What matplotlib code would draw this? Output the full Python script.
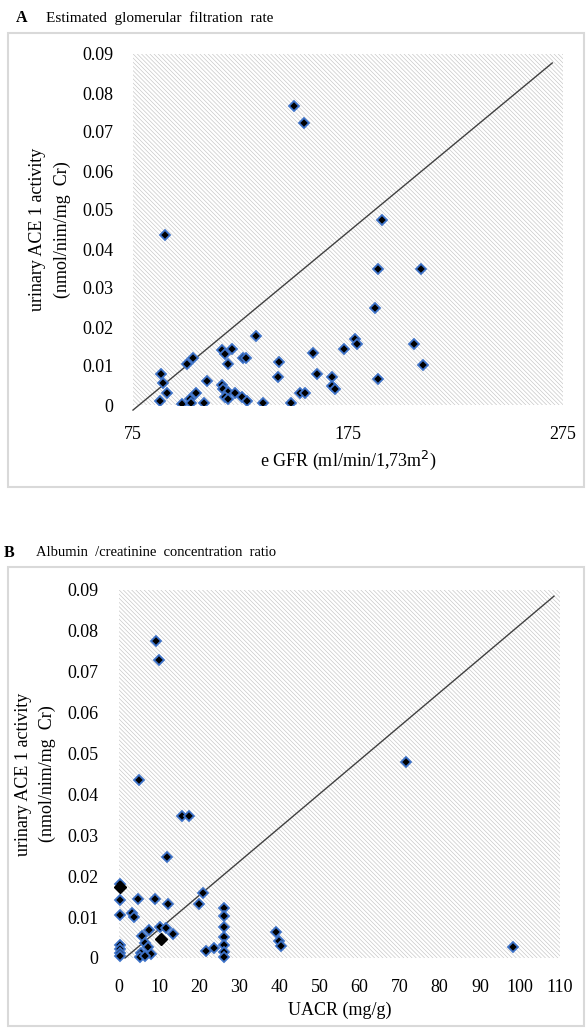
import matplotlib
matplotlib.use("Agg")
import matplotlib.pyplot as plt
from matplotlib.patches import Rectangle

plt.rcParams['font.family'] = ['Liberation Serif', 'DejaVu Serif']
plt.rcParams['hatch.linewidth'] = 0.45
plt.rcParams['hatch.color'] = '#c4c4c4'

# ---------------- Data: panel A (eGFR vs urinary ACE1 activity) ----------------
egfr = [89.9, 88.0, 89.0, 90.7, 87.6, 97.6, 101.5, 101.8, 104.1, 100.3, 102.8,
        108.0, 109.3, 116.2, 117.8, 120.9, 119.0, 116.2, 117.0, 119.3, 117.8,
        119.0, 122.4, 125.8, 127.9, 126.0, 127.4, 132.1, 135.3, 143.0, 142.3,
        148.5, 152.7, 155.0, 158.9, 160.7, 167.4, 167.4, 169.0, 173.1, 178.3,
        179.0, 187.6, 188.8, 188.8, 190.7, 209.0, 205.7, 209.7, 149.7, 154.5]
ace_a = [0.0436, 0.0079, 0.0056, 0.0032, 0.0011, 0.0003, 0.0015, 0.0004, 0.0032,
         0.0105, 0.0120, 0.0004, 0.0062, 0.0141, 0.0132, 0.0143, 0.0105, 0.0051,
         0.0040, 0.0034, 0.0020, 0.0015, 0.0032, 0.0021, 0.0010, 0.0120, 0.0120,
         0.0177, 0.0004, 0.0109, 0.0071, 0.0004, 0.0030, 0.0032, 0.0134, 0.0079,
         0.0073, 0.0050, 0.0041, 0.0143, 0.0169, 0.0156, 0.0248, 0.0348, 0.0067,
         0.0474, 0.0349, 0.0156, 0.0103, 0.0767, 0.0722]
line_a_x = [75, 270]
line_a_y = [-0.0013, 0.0877]

# ---------------- Data: panel B (UACR vs urinary ACE1 activity) ----------------
uacr = [5.0, 15.8, 17.5, 11.9, 0.25, 20.9, 20.0, 0.25, 4.7, 9.1, 12.1, 0.25,
        3.2, 3.8, 10.2, 11.7, 7.6, 13.4, 5.7, 6.5, 7.2, 0.25, 0.25, 0.25, 0.25,
        5.5, 7.9, 5.2, 6.5, 21.7, 23.8, 26.3, 26.3, 26.3, 26.3, 26.3, 26.3, 26.3,
        39.2, 39.9, 40.3, 71.6, 98.2, 9.2, 10.1]
ace_b = [0.0436, 0.0348, 0.0348, 0.0248, 0.0181, 0.0158, 0.0132, 0.0142, 0.0144,
         0.0144, 0.0132, 0.0105, 0.0109, 0.0101, 0.0077, 0.0073, 0.0068, 0.0059,
         0.0054, 0.0036, 0.0028, 0.0032, 0.0023, 0.0013, 0.0005, 0.0013, 0.0011,
         0.0002, 0.0005, 0.0018, 0.0024, 0.0122, 0.0103, 0.0077, 0.0051, 0.0032,
         0.0015, 0.0002, 0.0064, 0.0042, 0.0030, 0.0480, 0.0028, 0.0776, 0.0729]
uacr_black = [0.25, 10.5]
ace_black = [0.0173, 0.0046]
line_b_x = [1.5, 108.5]
line_b_y = [0.0, 0.0885]

yticks = [0, 0.01, 0.02, 0.03, 0.04, 0.05, 0.06, 0.07, 0.08, 0.09]
ytick_labels = ['0', '0.01', '0.02', '0.03', '0.04', '0.05', '0.06', '0.07', '0.08', '0.09']
xticks_a = [75, 175, 275]
xticks_b = [0, 10, 20, 30, 40, 50, 60, 70, 80, 90, 100, 110]

W, H = 586, 1029
fig = plt.figure(figsize=(W / 100, H / 100), dpi=100)

def fx(px):
    return px / W

def fy(py):
    return 1 - py / H

# frames
for (x0, y0, x1, y1) in [(8, 33, 584, 487), (8, 567, 584, 1026)]:
    fig.patches.append(Rectangle((fx(x0), fy(y1)), fx(x1 - x0), (y1 - y0) / H,
                                 transform=fig.transFigure, fill=False,
                                 edgecolor='#d9d9d9', linewidth=1.5))

marker_kw = dict(marker='D', linestyle='none', markersize=5.2,
                 markerfacecolor='black', markeredgecolor='#3d72c8',
                 markeredgewidth=1.3, zorder=4)

def style(ax):
    ax.set_facecolor('white')
    ax.add_patch(Rectangle((0, 0), 1, 1, transform=ax.transAxes,
                           facecolor='white', edgecolor='#c4c4c4', linewidth=0,
                           hatch='\\' * 8, zorder=0))
    for s in ax.spines.values():
        s.set_visible(False)
    ax.tick_params(length=0, labelsize=13)
    ax.set_yticks(yticks)
    ax.set_yticklabels(ytick_labels)
    ax.set_ylim(0, 0.09)

# ---------------- Panel A ----------------
axA = fig.add_axes([fx(133), fy(405), fx(430), 351 / H])
style(axA)
axA.set_xlim(75, 275)
axA.set_xticks(xticks_a)
axA.tick_params(axis='y', pad=14)
axA.tick_params(axis='x', pad=15)
axA.plot(line_a_x, line_a_y, color='#404040', linewidth=1.0, clip_on=False, zorder=3)
axA.plot(egfr, ace_a, **marker_kw)
axA.set_xlabel('e GFR (ml/min/1,73m$^{2}$)', fontsize=13, labelpad=4)
axA.set_ylabel('urinary ACE 1 activity\n(nmol/nim/mg  Cr)', fontsize=13, labelpad=8,
               linespacing=1.6)
fig.text(fx(16), fy(18), 'A', fontsize=11.5, fontweight='bold', va='center')
fig.text(fx(46), fy(18), 'Estimated  glomerular  filtration  rate', fontsize=11, va='center')

# ---------------- Panel B ----------------
axB = fig.add_axes([fx(119), fy(958), fx(441), 368 / H])
style(axB)
axB.set_xlim(0, 110)
axB.set_xticks(xticks_b)
axB.tick_params(axis='y', pad=15)
axB.tick_params(axis='x', pad=15)
axB.plot(line_b_x, line_b_y, color='#404040', linewidth=1.0, clip_on=False, zorder=3)
axB.plot(uacr, ace_b, clip_on=False, **marker_kw)
axB.plot(uacr_black, ace_black, marker='D', linestyle='none', markersize=6.5,
         color='black', zorder=5, clip_on=False)
axB.set_xlabel('UACR (mg/g)', fontsize=13, labelpad=4)
axB.set_ylabel('urinary ACE 1 activity\n(nmol/nim/mg  Cr)', fontsize=13, labelpad=8,
               linespacing=1.5)
fig.text(fx(4), fy(553), 'B', fontsize=11.5, fontweight='bold', va='center')
fig.text(fx(36), fy(553), 'Albumin  /creatinine  concentration  ratio', fontsize=10.5, va='center')

fig.savefig('out.png', dpi=100)
